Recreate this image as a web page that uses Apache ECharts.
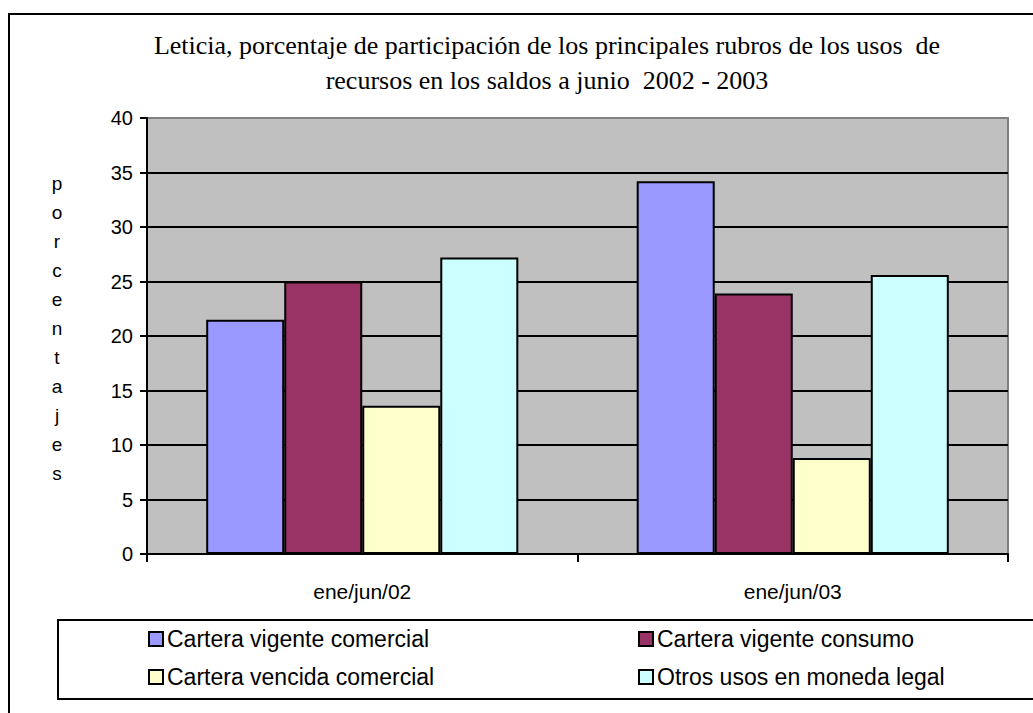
<!DOCTYPE html>
<html>
<head>
<meta charset="utf-8">
<script src="https://cdn.jsdelivr.net/npm/echarts@6/dist/echarts.min.js"></script>
<style>
  html, body { margin: 0; padding: 0; background: #fff; }
  #chart { width: 1033px; height: 713px; }
</style>
</head>
<body>
<div id="chart"></div>
<script>
(function() {
  // --- data ---
  var categories = ['ene/jun/02', 'ene/jun/03'];
  var seriesNames = [
    'Cartera vigente comercial',
    'Cartera vigente consumo',
    'Cartera vencida comercial',
    'Otros usos en moneda legal'
  ];
  var vigenteComercial = [21.5, 34.2];
  var vigenteConsumo = [25.0, 23.9];
  var vencidaComercial = [13.6, 8.8];
  var otrosUsos = [27.2, 25.6];
  var seriesColors = ['#9999FF', '#993366', '#FFFFCC', '#CCFFFF'];

  var values = [vigenteComercial, vigenteConsumo, vencidaComercial, otrosUsos];
  var sans = 'Liberation Sans, Arial, sans-serif';

  var chart = echarts.init(document.getElementById('chart'), null, { renderer: 'svg' });

  var legendCommon = {
    orient: 'vertical',
    top: 627,
    padding: 0,
    itemWidth: 14, itemHeight: 14,
    itemGap: 14,
    icon: 'rect',
    selectedMode: false,
    textStyle: { color: '#000', fontFamily: sans, fontSize: 23, lineHeight: 24, padding: [0, 0, 0, -1] }
  };

  chart.setOption({
    animation: false,
    backgroundColor: '#fff',
    title: {
      text: 'Leticia, porcentaje de participación de los principales rubros de los usos  de\nrecursos en los saldos a junio  2002 - 2003',
      left: 542,
      top: 23,
      textAlign: 'center',
      textStyle: {
        color: '#000',
        fontFamily: 'Liberation Serif, Times New Roman, serif',
        fontWeight: 'normal',
        fontSize: 26,
        lineHeight: 35
      }
    },
    legend: [
      Object.assign({}, legendCommon, { left: 148, data: [seriesNames[0], seriesNames[2]] }),
      Object.assign({}, legendCommon, { left: 638, data: [seriesNames[1], seriesNames[3]] })
    ],
    grid: {
      left: 147, right: 25, top: 118, bottom: 159,
      show: true,
      backgroundColor: '#C0C0C0',
      borderColor: '#808080',
      borderWidth: 2
    },
    xAxis: {
      type: 'category',
      data: categories,
      axisLine: { lineStyle: { color: '#000', width: 2 } },
      axisTick: { show: true, inside: false, length: 8, interval: 0, lineStyle: { color: '#000', width: 2 } },
      axisLabel: { color: '#000', fontFamily: sans, fontSize: 21, margin: 27 },
      splitLine: { show: false }
    },
    yAxis: {
      type: 'value',
      min: 0, max: 40, interval: 5,
      axisLine: { show: true, lineStyle: { color: '#000', width: 2 } },
      axisTick: { show: true, inside: false, length: 7, lineStyle: { color: '#000', width: 2 } },
      axisLabel: { color: '#000', fontFamily: sans, fontSize: 20, margin: 14 },
      splitLine: { show: true, showMaxLine: false, lineStyle: { color: '#000', width: 2 } }
    },
    graphic: [
      {
        type: 'rect',
        shape: { x: 9, y: 14, width: 1040, height: 720 },
        style: { fill: 'none', stroke: '#000', lineWidth: 2 },
        silent: true
      },
      {
        type: 'rect',
        shape: { x: 58, y: 620, width: 990, height: 79 },
        style: { fill: 'none', stroke: '#000', lineWidth: 2 },
        silent: true
      },
      {
        type: 'text',
        x: 57, y: 328,
        style: {
          text: 'p\no\nr\nc\ne\nn\nt\na\nj\ne\ns',
          fill: '#000',
          font: '19px Liberation Sans, Arial, sans-serif',
          lineHeight: 29,
          align: 'center',
          verticalAlign: 'middle'
        },
        silent: true
      }
    ],
    series: seriesNames.map(function(name, i) {
      return {
        name: name,
        type: 'bar',
        data: values[i],
        barGap: '0%',
        barCategoryGap: '27.5%',
        itemStyle: { color: seriesColors[i], borderColor: '#000', borderWidth: 2 }
      };
    })
  });
  window.addEventListener('resize', function() { chart.resize(); });
})();
</script>
</body>
</html>
